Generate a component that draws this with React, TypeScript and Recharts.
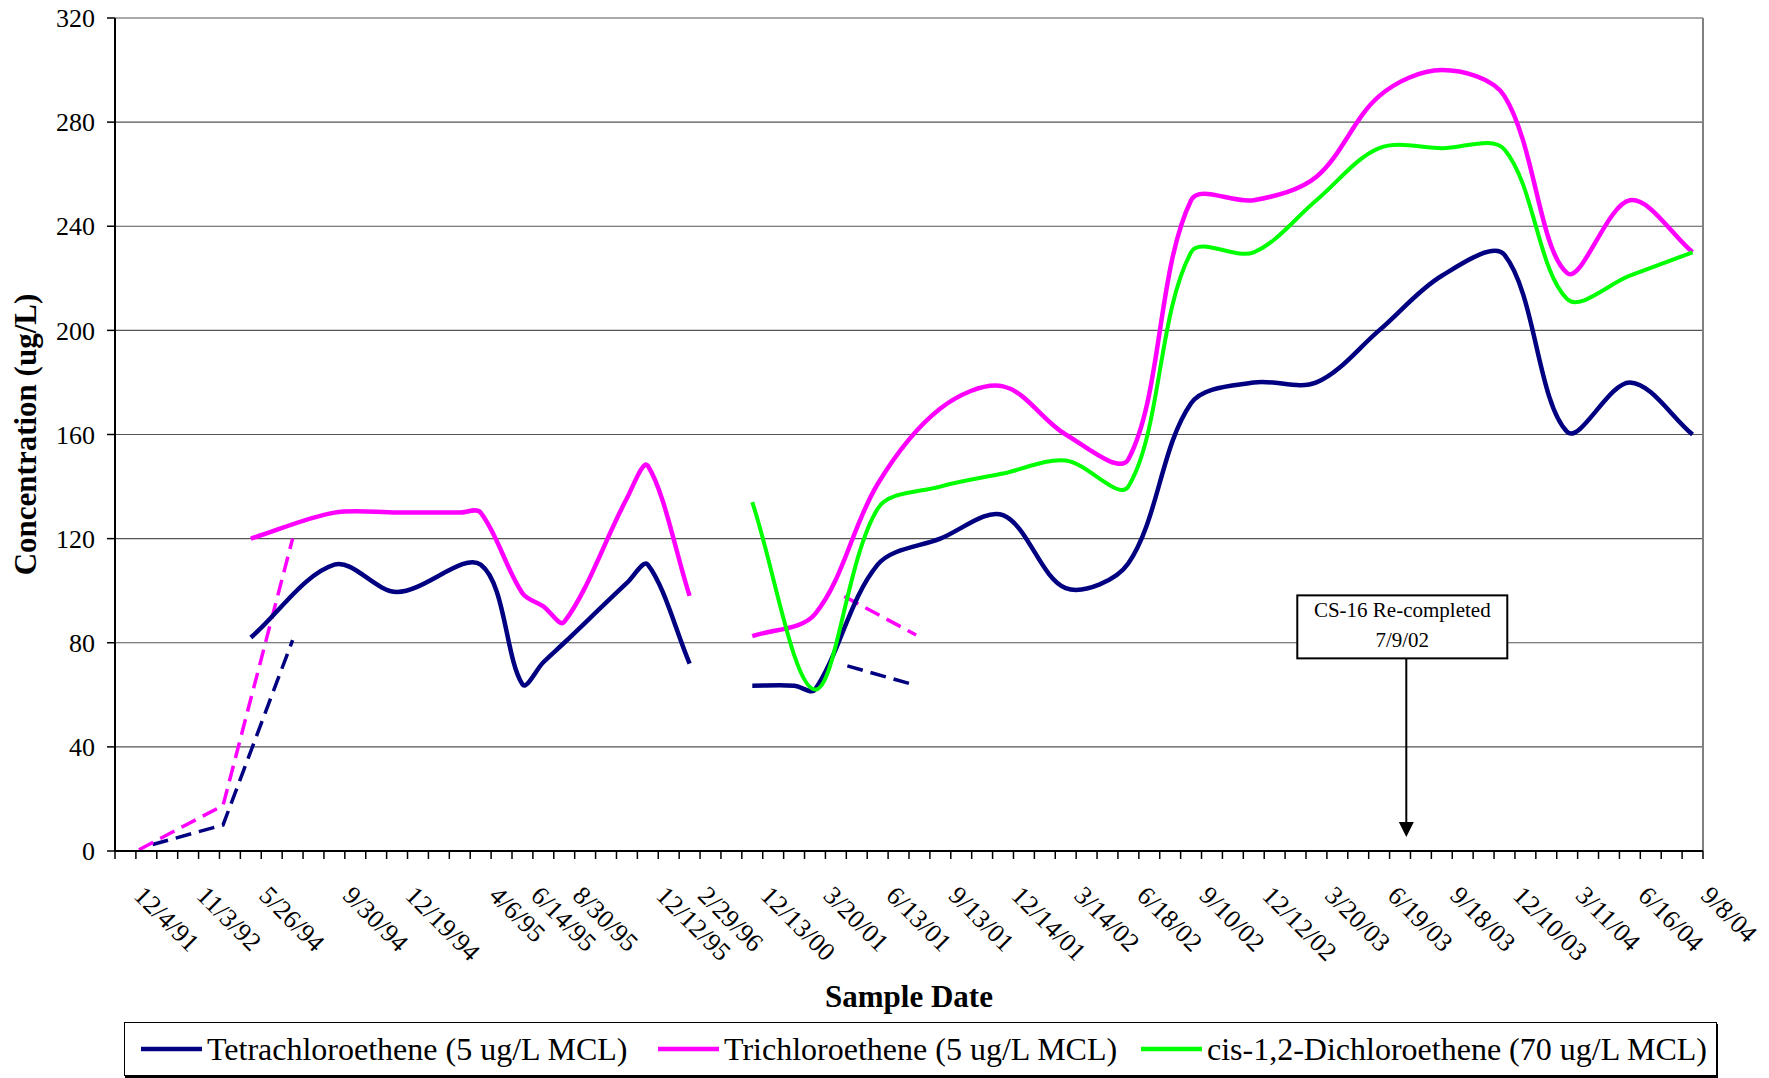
import { LineChart, Line, XAxis, YAxis, CartesianGrid, ReferenceLine, ReferenceDot, Label } from "recharts";

const SERIF = "'Liberation Serif', 'Times New Roman', serif";
const NAVY = "#000080";
const MAGENTA = "#ff00ff";
const GREEN = "#00ff00";

const CHART_W = 1769;
const CHART_H = 1078;
const MARGIN = { top: 18, right: 66, bottom: 127, left: 15 };
const Y_AXIS_W = 100;
const SLOT_COUNT = 76;
const SLOT_PX = (CHART_W - MARGIN.left - Y_AXIS_W - MARGIN.right) / SLOT_COUNT;

// category slots that carry a date label
const TICK_SLOTS = [0, 3, 6, 10, 13, 17, 19, 21, 25, 27, 30, 33, 36, 39, 42, 45, 48, 51, 54, 57, 60, 63, 66, 69, 72, 75];
const TICK_DATES = [
  "12/4/91", "11/3/92", "5/26/94", "9/30/94", "12/19/94", "4/6/95", "6/14/95", "8/30/95", "12/12/95", "2/29/96",
  "12/13/00", "3/20/01", "6/13/01", "9/13/01", "12/14/01", "3/14/02", "6/18/02", "9/10/02", "12/12/02", "3/20/03",
  "6/19/03", "9/18/03", "12/10/03", "3/11/04", "6/16/04", "9/8/04",
];
const Y_TICKS = [0, 40, 80, 120, 160, 200, 240, 280, 320];

// Tetrachloroethene
const PCE_SLOTS_1 = [6, 10, 13, 17, 19, 20, 21, 24, 25, 27];
const PCE_VALUES_1 = [82, 110, 99.5, 110, 64, 72.5, 80, 103, 110, 72];
const PCE_SLOTS_2 = [30, 32, 33, 36, 39, 42, 45, 48, 51, 54, 57, 60, 63, 66, 69, 72, 75];
const PCE_VALUES_2 = [63.5, 63.5, 62, 110, 120, 129, 101, 110.5, 172, 180, 180, 200, 221, 229, 161, 180, 160];
const PCE_DASH_SLOTS_1 = [1.3, 4.67, 8];
const PCE_DASH_VALUES_1 = [2.5, 10, 81];
const PCE_DASH_SLOTS_2 = [34.55, 37.84];
const PCE_DASH_VALUES_2 = [71.1, 63.6];

// Trichloroethene
const TCE_SLOTS_1 = [6, 10, 13, 16, 17, 19, 20, 21, 24, 25, 27];
const TCE_VALUES_1 = [120, 130, 130, 130, 130, 99, 94, 88, 135.5, 148, 98];
const TCE_SLOTS_2 = [30, 33, 36, 39, 42, 45, 48, 51, 54, 57, 60, 63, 66, 69, 72, 75];
const TCE_VALUES_2 = [82.5, 91, 141, 170, 178.5, 160, 150.5, 250, 250, 259, 290, 300, 290, 222, 250, 230];
const TCE_DASH_SLOTS_1 = [0.65, 4.67, 8];
const TCE_DASH_VALUES_1 = [0.5, 17.5, 120];
const TCE_DASH_SLOTS_2 = [34.4, 37.84];
const TCE_DASH_VALUES_2 = [97.8, 83];

// cis-1,2-Dichloroethene
const DCE_SLOTS = [30, 33, 36, 39, 42, 45, 48, 51, 54, 57, 60, 63, 66, 69, 72, 75];
const DCE_VALUES = [134, 62, 131.5, 140, 145, 150, 140, 230, 230, 250, 270, 270, 269.5, 212, 221, 230];

const ANNOT_SLOT = 61.3;
const ANNOT_BOX_BOTTOM = 74;
const ANNOT_TIP = 5.4;

const toPoints = (slots: number[], values: number[]) => slots.map((slot, i) => ({ slot, value: values[i] }));

// Excel-like smoothing: Catmull-Rom bezier with tangents weighted by segment length
function excelSmooth(context: any) {
  let pts: number[][] = [];
  const dist = (a: number[], b: number[]) => Math.hypot(b[0] - a[0], b[1] - a[1]);
  return {
    areaStart() {},
    areaEnd() {},
    lineStart() {
      pts = [];
    },
    point(x: number, y: number) {
      pts.push([+x, +y]);
    },
    lineEnd() {
      const n = pts.length;
      if (!n) return;
      context.moveTo(pts[0][0], pts[0][1]);
      for (let i = 0; i < n - 1; i++) {
        const p0 = pts[Math.max(i - 1, 0)];
        const p1 = pts[i];
        const p2 = pts[i + 1];
        const p3 = pts[Math.min(i + 2, n - 1)];
        const d01 = dist(p0, p1);
        const d12 = dist(p1, p2);
        const d23 = dist(p2, p3);
        const f1 = d01 + d12 > 0 ? d12 / (d01 + d12) / 3 : 0;
        const f2 = d12 + d23 > 0 ? d12 / (d12 + d23) / 3 : 0;
        context.bezierCurveTo(
          p1[0] + (p2[0] - p0[0]) * f1,
          p1[1] + (p2[1] - p0[1]) * f1,
          p2[0] - (p3[0] - p1[0]) * f2,
          p2[1] - (p3[1] - p1[1]) * f2,
          p2[0],
          p2[1]
        );
      }
    },
  };
}

const boundaryTicks = Array.from({ length: SLOT_COUNT + 1 }, (_, i) => i - 0.5);

function DateTick(props: any) {
  const { x, y, payload } = props;
  const idx = TICK_SLOTS.indexOf(Math.round(payload.value + 0.5));
  if (idx < 0) return <g />;
  const tx = x + SLOT_PX / 2 + 7;
  const ty = y + 36;
  return (
    <text x={tx} y={ty} transform={`rotate(45 ${tx} ${ty})`} fontFamily={SERIF} fontSize={26} fill="#000">
      {TICK_DATES[idx]}
    </text>
  );
}

function YTitle(props: any) {
  const { viewBox } = props;
  const cx = viewBox.x + 10;
  const cy = viewBox.y + viewBox.height / 2;
  return (
    <text x={cx} y={cy} transform={`rotate(-90 ${cx} ${cy})`} textAnchor="middle" dominantBaseline="central"
      fontFamily={SERIF} fontSize={31} fontWeight="bold" fill="#000">
      Concentration (ug/L)
    </text>
  );
}

function XTitle(props: any) {
  const { viewBox } = props;
  return (
    <text x={viewBox.x + viewBox.width / 2} y={viewBox.y + 145} textAnchor="middle" dominantBaseline="central"
      fontFamily={SERIF} fontSize={31} fontWeight="bold" fill="#000">
      Sample Date
    </text>
  );
}

function AnnotationBox(props: any) {
  const { cx, cy } = props;
  return (
    <g>
      <rect x={cx - 109} y={cy - 63} width={210} height={63} fill="#fff" stroke="#000" strokeWidth={2} />
      <text x={cx - 4} y={cy - 48} textAnchor="middle" dominantBaseline="central" fontFamily={SERIF} fontSize={21} fill="#000">
        CS-16 Re-completed
      </text>
      <text x={cx - 4} y={cy - 18} textAnchor="middle" dominantBaseline="central" fontFamily={SERIF} fontSize={21} fill="#000">
        7/9/02
      </text>
    </g>
  );
}

function ArrowHead(props: any) {
  const { cx, cy } = props;
  return <polygon points={`${cx - 7.5},${cy - 15} ${cx + 7.5},${cy - 15} ${cx},${cy}`} fill="#000" />;
}

const LEGEND_ITEMS = [
  { label: "Tetrachloroethene (5 ug/L MCL)", color: NAVY, left: 16 },
  { label: "Trichloroethene (5 ug/L MCL)", color: MAGENTA, left: 533 },
  { label: "cis-1,2-Dichloroethene (70 ug/L MCL)", color: GREEN, left: 1016 },
];

function ChartLegend() {
  return (
    <div
      style={{
        position: "absolute",
        left: 124,
        top: 1022,
        width: 1593,
        height: 54,
        boxSizing: "border-box",
        border: "1px solid #000",
        boxShadow: "1px 2px 0 #000",
        background: "#fff",
        fontFamily: SERIF,
        fontSize: 32,
        whiteSpace: "nowrap",
      }}
    >
      {LEGEND_ITEMS.map((item) => (
        <div
          key={item.label}
          style={{ position: "absolute", left: item.left, top: 0, height: 52, display: "flex", alignItems: "center" }}
        >
          <svg width={61} height={10} style={{ marginRight: 5 }}>
            <line x1={0} y1={5} x2={61} y2={5} stroke={item.color} strokeWidth={4.5} />
          </svg>
          <span>{item.label}</span>
        </div>
      ))}
    </div>
  );
}

export default function App() {
  const solid = { dot: false, activeDot: false, isAnimationActive: false, legendType: "none" as const, type: excelSmooth as any };
  const dashed = { dot: false, activeDot: false, isAnimationActive: false, legendType: "none" as const, type: "linear" as const, strokeDasharray: "16 8", strokeWidth: 3.5 };
  return (
    <div style={{ position: "absolute", left: 0, top: 0, width: CHART_W, height: CHART_H, background: "#fff" }}>
      <LineChart width={CHART_W} height={CHART_H} margin={MARGIN}>
        <CartesianGrid vertical={false} stroke="#555" strokeWidth={1.2} />
        <XAxis
          dataKey="slot"
          type="number"
          domain={[-0.5, SLOT_COUNT - 0.5]}
          allowDataOverflow
          ticks={boundaryTicks}
          interval={0}
          height={100}
          tick={<DateTick />}
          tickSize={8}
          tickLine={{ stroke: "#000", strokeWidth: 1.5 }}
          axisLine={{ stroke: "#000", strokeWidth: 2 }}
        >
          <Label content={<XTitle />} />
        </XAxis>
        <YAxis
          domain={[0, 320]}
          ticks={Y_TICKS}
          width={Y_AXIS_W}
          interval={0}
          tickSize={8}
          tickMargin={12}
          tick={{ fontFamily: SERIF, fontSize: 26, fill: "#000" }}
          tickLine={{ stroke: "#000", strokeWidth: 1.5 }}
          axisLine={{ stroke: "#000", strokeWidth: 2 }}
        >
          <Label content={<YTitle />} />
        </YAxis>
        <ReferenceLine x={SLOT_COUNT - 0.5} stroke="#808080" strokeWidth={2} ifOverflow="visible" />

        <Line {...dashed} data={toPoints(PCE_DASH_SLOTS_1, PCE_DASH_VALUES_1)} dataKey="value" stroke={NAVY} />
        <Line {...dashed} data={toPoints(TCE_DASH_SLOTS_1, TCE_DASH_VALUES_1)} dataKey="value" stroke={MAGENTA} />
        <Line {...dashed} data={toPoints(PCE_DASH_SLOTS_2, PCE_DASH_VALUES_2)} dataKey="value" stroke={NAVY} />
        <Line {...dashed} data={toPoints(TCE_DASH_SLOTS_2, TCE_DASH_VALUES_2)} dataKey="value" stroke={MAGENTA} />

        <Line {...solid} data={toPoints(PCE_SLOTS_1, PCE_VALUES_1)} dataKey="value" stroke={NAVY} strokeWidth={4.5} />
        <Line {...solid} data={toPoints(PCE_SLOTS_2, PCE_VALUES_2)} dataKey="value" stroke={NAVY} strokeWidth={4.5} />
        <Line {...solid} data={toPoints(TCE_SLOTS_1, TCE_VALUES_1)} dataKey="value" stroke={MAGENTA} strokeWidth={4.5} />
        <Line {...solid} data={toPoints(TCE_SLOTS_2, TCE_VALUES_2)} dataKey="value" stroke={MAGENTA} strokeWidth={4.5} />
        <Line {...solid} data={toPoints(DCE_SLOTS, DCE_VALUES)} dataKey="value" stroke={GREEN} strokeWidth={4} />

        <ReferenceLine
          segment={[{ x: ANNOT_SLOT, y: ANNOT_BOX_BOTTOM }, { x: ANNOT_SLOT, y: ANNOT_TIP + 5 }]}
          stroke="#000"
          strokeWidth={2}
        />
        <ReferenceDot x={ANNOT_SLOT} y={ANNOT_TIP} shape={<ArrowHead />} />
        <ReferenceDot x={ANNOT_SLOT} y={ANNOT_BOX_BOTTOM} shape={<AnnotationBox />} />
      </LineChart>
      <ChartLegend />
    </div>
  );
}
